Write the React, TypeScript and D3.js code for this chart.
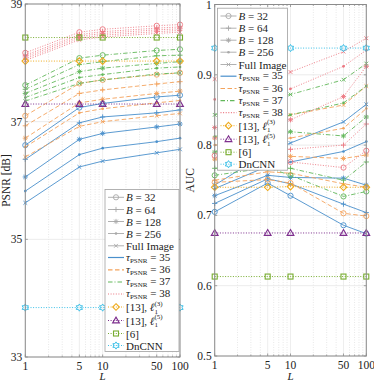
import React, { useEffect, useRef } from "react";
import * as d3 from "d3";

const Ls = [1, 5, 10, 50, 100];
const taus = [35, 36, 37, 38];
const blockLabels = ["32", "64", "128", "256"];
const markerTypes = ["circle", "plus", "asterisk", "dot", "cross"];

// PSNR [dB]; rows: B = 32, 64, 128, 256, Full Image
const psnr35 = [
  [36.6, 37.24, 37.31, 37.42, 37.45],
  [36.36, 36.98, 37.08, 37.15, 37.2],
  [36.06, 36.7, 36.8, 36.91, 36.96],
  [35.82, 36.44, 36.55, 36.66, 36.72],
  [35.62, 36.23, 36.33, 36.47, 36.53],
];
const psnr36 = [
  [37.1, 37.65, 37.71, 37.8, 37.83],
  [36.93, 37.48, 37.54, 37.64, 37.68],
  [36.72, 37.32, 37.38, 37.48, 37.52],
  [36.57, 37.15, 37.22, 37.32, 37.36],
  [36.4, 36.92, 37.0, 37.1, 37.14],
];
const psnr37 = [
  [37.62, 38.08, 38.13, 38.21, 38.23],
  [37.55, 37.97, 38.02, 38.12, 38.13],
  [37.48, 37.85, 37.91, 37.99, 38.02],
  [37.41, 37.75, 37.8, 37.91, 37.93],
  [37.35, 37.65, 37.71, 37.81, 37.83],
];
const psnr38 = [
  [38.17, 38.52, 38.57, 38.63, 38.65],
  [38.13, 38.48, 38.53, 38.59, 38.61],
  [38.1, 38.45, 38.5, 38.56, 38.58],
  [38.07, 38.42, 38.47, 38.53, 38.55],
  [38.04, 38.39, 38.44, 38.5, 38.52],
];
const psnrRef13l3 = [38.03, 38.03, 38.03, 38.03, 38.03];
const psnrRef13l5 = [37.3, 37.3, 37.3, 37.3, 37.3];
const psnrRef6 = [38.43, 38.43, 38.43, 38.43, 38.43];
const psnrDnCNN = [33.84, 33.84, 33.84, 33.84, 33.84];

// AUC; rows: B = 32, 64, 128, 256, Full Image
const auc35 = [
  [0.705, 0.746, 0.728, 0.686, 0.674],
  [0.717, 0.752, 0.745, 0.716, 0.704],
  [0.728, 0.757, 0.754, 0.753, 0.743],
  [0.738, 0.77, 0.776, 0.791, 0.805],
  [0.743, 0.79, 0.803, 0.833, 0.858],
];
const auc36 = [
  [0.747, 0.751, 0.746, 0.703, 0.699],
  [0.75, 0.762, 0.76, 0.745, 0.74],
  [0.78, 0.785, 0.784, 0.781, 0.786],
  [0.8, 0.808, 0.81, 0.824, 0.852],
  [0.81, 0.835, 0.843, 0.857, 0.884],
];
const auc37 = [
  [0.757, 0.768, 0.757, 0.727, 0.734],
  [0.767, 0.772, 0.767, 0.75, 0.776],
  [0.79, 0.81, 0.819, 0.813, 0.84],
  [0.812, 0.835, 0.843, 0.86, 0.884],
  [0.843, 0.865, 0.872, 0.893, 0.916],
];
const auc38 = [
  [0.785, 0.785, 0.776, 0.768, 0.792],
  [0.81, 0.8, 0.794, 0.8, 0.83],
  [0.825, 0.83, 0.836, 0.869, 0.912],
  [0.865, 0.87, 0.88, 0.912, 0.935],
  [0.894, 0.9, 0.904, 0.933, 0.952],
];
const aucRef13l3 = [0.74, 0.74, 0.741, 0.74, 0.74];
const aucRef13l5 = [0.675, 0.675, 0.675, 0.675, 0.675];
const aucRef6 = [0.613, 0.613, 0.613, 0.613, 0.613];
const aucDnCNN = [0.938, 0.938, 0.938, 0.938, 0.938];

const tauColors = ["#4a90cc", "#f4a35c", "#62b85a", "#ec7680"];
const tauDash = ["none", "4.5,2.5", "4.5,2,1,2", "1,1.6"];
const FONT = "'Liberation Serif', 'DejaVu Serif', serif";
const gray = "#a8a8a8";

function drawMarker(g: any, type: string, x: number, y: number, color: string) {
  const s = 2.6;
  if (type === "circle") {
    g.append("circle").attr("cx", x).attr("cy", y).attr("r", s).attr("fill", "none").attr("stroke", color).attr("stroke-width", 0.9);
  } else if (type === "plus" || type === "asterisk" || type === "cross") {
    const segs: number[][] = [];
    if (type !== "cross") segs.push([-s, 0, s, 0], [0, -s, 0, s]);
    if (type !== "plus") {
      const d = s * 0.72;
      segs.push([-d, -d, d, d], [-d, d, d, -d]);
    }
    segs.forEach((q) =>
      g.append("line").attr("x1", x + q[0]).attr("y1", y + q[1]).attr("x2", x + q[2]).attr("y2", y + q[3]).attr("stroke", color).attr("stroke-width", 0.9)
    );
  } else if (type === "dot") {
    g.append("circle").attr("cx", x).attr("cy", y).attr("r", 1.3).attr("fill", color);
  } else if (type === "diamond") {
    const r = 3.3;
    g.append("path").attr("d", `M${x},${y - r}L${x + r},${y}L${x},${y + r}L${x - r},${y}Z`).attr("fill", "none").attr("stroke", color).attr("stroke-width", 1.1);
  } else if (type === "triangle") {
    const r = 3.4;
    g.append("path").attr("d", `M${x},${y - r}L${x + r},${y + r * 0.7}L${x - r},${y + r * 0.7}Z`).attr("fill", "none").attr("stroke", color).attr("stroke-width", 1.1);
  } else if (type === "square") {
    const r = 2.5;
    g.append("rect").attr("x", x - r).attr("y", y - r).attr("width", 2 * r).attr("height", 2 * r).attr("fill", "none").attr("stroke", color).attr("stroke-width", 1.1);
  } else if (type === "hexagram") {
    const pts: string[] = [];
    for (let i = 0; i < 12; i++) {
      const r = i % 2 === 0 ? 3.6 : 2.1;
      const a = (Math.PI / 6) * i - Math.PI / 2;
      pts.push(`${x + r * Math.cos(a)},${y + r * Math.sin(a)}`);
    }
    g.append("path").attr("d", "M" + pts.join("L") + "Z").attr("fill", "none").attr("stroke", color).attr("stroke-width", 1);
  }
}

type Panel = {
  x0: number; x1: number; y0: number; y1: number;
  dom: [number, number]; ticks: number[]; fmt: (v: number) => string;
  tau: number[][][]; refs: { vals: number[]; color: string; marker: string }[];
  ylabel: string; ylabelX: number;
};

function drawPanel(svg: any, p: Panel) {
  const x = d3.scaleLog().domain([1, 100]).range([p.x0, p.x1]);
  const y = d3.scaleLinear().domain(p.dom).range([p.y1, p.y0]);
  const g = svg.append("g");
  const minor = [2, 3, 4, 6, 7, 8, 9, 20, 30, 40, 60, 70, 80, 90];

  // grid
  minor.forEach((v) =>
    g.append("line").attr("x1", x(v)).attr("x2", x(v)).attr("y1", p.y0).attr("y2", p.y1).attr("stroke", "#d8d8d8").attr("stroke-width", 0.6).attr("stroke-dasharray", "1,1.5")
  );
  Ls.forEach((v) =>
    g.append("line").attr("x1", x(v)).attr("x2", x(v)).attr("y1", p.y0).attr("y2", p.y1).attr("stroke", "#e6e6e6").attr("stroke-width", 0.7)
  );
  p.ticks.forEach((v) =>
    g.append("line").attr("x1", p.x0).attr("x2", p.x1).attr("y1", y(v)).attr("y2", y(v)).attr("stroke", "#e6e6e6").attr("stroke-width", 0.8)
  );

  // tau series
  const line = d3.line<number>().x((_, i) => x(Ls[i])).y((d) => y(d));
  p.tau.forEach((rows, ti) => {
    rows.forEach((vals, bi) => {
      g.append("path").attr("d", line(vals)).attr("fill", "none").attr("stroke", tauColors[ti]).attr("stroke-width", 0.9).attr("stroke-dasharray", tauDash[ti]);
      vals.forEach((v, i) => drawMarker(g, markerTypes[bi], x(Ls[i]), y(v), tauColors[ti]));
    });
  });
  // reference methods
  p.refs.forEach((r) => {
    g.append("path").attr("d", line(r.vals)).attr("fill", "none").attr("stroke", r.color).attr("stroke-width", 1).attr("stroke-dasharray", "1,1.6");
    r.vals.forEach((v, i) => drawMarker(g, r.marker, x(Ls[i]), y(v), r.color));
  });

  // box + ticks
  g.append("rect").attr("x", p.x0).attr("y", p.y0).attr("width", p.x1 - p.x0).attr("height", p.y1 - p.y0).attr("fill", "none").attr("stroke", "#8c8c8c").attr("stroke-width", 1);
  minor.forEach((v) => {
    g.append("line").attr("x1", x(v)).attr("x2", x(v)).attr("y1", p.y1).attr("y2", p.y1 - 1.5).attr("stroke", "#8c8c8c").attr("stroke-width", 0.7);
    g.append("line").attr("x1", x(v)).attr("x2", x(v)).attr("y1", p.y0).attr("y2", p.y0 + 1.5).attr("stroke", "#8c8c8c").attr("stroke-width", 0.7);
  });
  Ls.forEach((v) => {
    g.append("line").attr("x1", x(v)).attr("x2", x(v)).attr("y1", p.y1).attr("y2", p.y1 - 2.5).attr("stroke", "#8c8c8c").attr("stroke-width", 0.8);
    g.append("line").attr("x1", x(v)).attr("x2", x(v)).attr("y1", p.y0).attr("y2", p.y0 + 2.5).attr("stroke", "#8c8c8c").attr("stroke-width", 0.8);
    g.append("text").attr("x", x(v)).attr("y", p.y1 + 13).attr("text-anchor", "middle").attr("font-family", FONT).attr("font-size", 11.5).attr("fill", "#222").text(String(v));
  });
  p.ticks.forEach((v) => {
    g.append("line").attr("x1", p.x0).attr("x2", p.x0 + 2.5).attr("y1", y(v)).attr("y2", y(v)).attr("stroke", "#8c8c8c").attr("stroke-width", 0.8);
    g.append("line").attr("x1", p.x1).attr("x2", p.x1 - 2.5).attr("y1", y(v)).attr("y2", y(v)).attr("stroke", "#8c8c8c").attr("stroke-width", 0.8);
    g.append("text").attr("x", p.x0 - 3).attr("y", y(v) + 4).attr("text-anchor", "end").attr("font-family", FONT).attr("font-size", 11.5).attr("fill", "#222").text(p.fmt(v));
  });
  g.append("text").attr("x", (p.x0 + p.x1) / 2).attr("y", 379.5).attr("text-anchor", "middle").attr("font-family", FONT).attr("font-style", "italic").attr("font-size", 11).attr("fill", "#222").text("L");
  g.append("text").attr("transform", `translate(${p.ylabelX},${(p.y0 + p.y1) / 2}) rotate(-90)`).attr("text-anchor", "middle").attr("font-family", FONT).attr("font-size", 11.5).attr("fill", "#222").text(p.ylabel);
}

function drawLegend(svg: any, lx: number, top: number, ys: number[], width: number, height: number) {
  const g = svg.append("g").attr("font-family", FONT).attr("font-size", 11).attr("fill", "#222");
  g.append("rect").attr("x", lx).attr("y", top).attr("width", width).attr("height", height).attr("fill", "white").attr("stroke", "#a0a0a0").attr("stroke-width", 0.8);
  const lx0 = lx + 3, lx1 = lx + 19, mx = lx + 11, tx = lx + 21;
  const sample = (yy: number, color: string, dash: string, marker: string | null, w = 0.9) => {
    g.append("line").attr("x1", lx0).attr("x2", lx1).attr("y1", yy).attr("y2", yy).attr("stroke", color).attr("stroke-width", w).attr("stroke-dasharray", dash);
    if (marker) drawMarker(g, marker, mx, yy, color);
  };
  let k = 0;
  // block sizes
  blockLabels.forEach((b, bi) => {
    const yy = ys[k++];
    sample(yy, gray, "none", markerTypes[bi]);
    const t = g.append("text").attr("x", tx).attr("y", yy + 4);
    t.append("tspan").attr("font-style", "italic").text("B");
    t.append("tspan").text(` = ${b}`);
  });
  {
    const yy = ys[k++];
    sample(yy, gray, "none", "cross");
    g.append("text").attr("x", tx).attr("y", yy + 4).text("Full Image");
  }
  taus.forEach((tau, ti) => {
    const yy = ys[k++];
    sample(yy, tauColors[ti], tauDash[ti], null, 1.2);
    const t = g.append("text").attr("x", tx).attr("y", yy + 3);
    t.append("tspan").attr("font-style", "italic").text("τ");
    t.append("tspan").attr("font-size", 7).attr("dy", 2).text("PSNR");
    t.append("tspan").attr("dy", -2).text(` = ${tau}`);
  });
  const refs = [
    { label: "3", color: "#eeaa1c", marker: "diamond" },
    { label: "5", color: "#7e2f8e", marker: "triangle" },
  ];
  refs.forEach((r) => {
    const yy = ys[k++];
    sample(yy, r.color, "1,1.6", r.marker, 1);
    const t = g.append("text").attr("x", tx).attr("y", yy + 4);
    t.append("tspan").text("[13], ");
    t.append("tspan").attr("font-style", "italic").text("ℓ");
    t.append("tspan").attr("font-size", 7).attr("dy", 2.5).text("1");
    t.append("tspan").attr("font-size", 7).attr("dx", -3.5).attr("dy", -8).text(`(${r.label})`);
  });
  {
    const yy = ys[k++];
    sample(yy, "#77ac30", "1,1.6", "square", 1);
    g.append("text").attr("x", tx).attr("y", yy + 4).text("[6]");
  }
  {
    const yy = ys[k++];
    sample(yy, "#3cc0e8", "1,1.6", "hexagram", 1);
    g.append("text").attr("x", tx).attr("y", yy + 4).text("DnCNN");
  }
}

export default function App() {
  const svgRef = useRef<SVGSVGElement>(null);

  useEffect(() => {
    const svg = d3.select(svgRef.current);
    svg.selectAll("*").remove();

    drawPanel(svg, {
      x0: 25.3, x1: 180, y0: 4, y1: 357,
      dom: [33, 39], ticks: [33, 35, 37, 39], fmt: (v) => String(v),
      tau: [psnr35, psnr36, psnr37, psnr38],
      refs: [
        { vals: psnrRef13l3, color: "#eeaa1c", marker: "diamond" },
        { vals: psnrRef13l5, color: "#7e2f8e", marker: "triangle" },
        { vals: psnrRef6, color: "#77ac30", marker: "square" },
        { vals: psnrDnCNN, color: "#3cc0e8", marker: "hexagram" },
      ],
      ylabel: "PSNR [dB]", ylabelX: 10,
    });
    drawPanel(svg, {
      x0: 214.7, x1: 366.3, y0: 4.5, y1: 356,
      dom: [0.5, 1], ticks: [0.5, 0.6, 0.7, 0.8, 0.9, 1], fmt: (v) => (v === 1 ? "1" : d3.format(".1f")(v)),
      tau: [auc35, auc36, auc37, auc38],
      refs: [
        { vals: aucRef13l3, color: "#eeaa1c", marker: "diamond" },
        { vals: aucRef13l5, color: "#7e2f8e", marker: "triangle" },
        { vals: aucRef6, color: "#77ac30", marker: "square" },
        { vals: aucDnCNN, color: "#3cc0e8", marker: "hexagram" },
      ],
      ylabel: "AUC", ylabelX: 194,
    });

    const rowsLeft = [197.3, 209.5, 221.5, 233.5, 245.8, 257.5, 269.8, 282, 294, 307, 320.5, 333.5, 345.5];
    drawLegend(svg, 105, 189.5, rowsLeft, 74, 162);
    const rowsRight = rowsLeft.map((v) => v - 181.3);
    drawLegend(svg, 217.5, 8.2, rowsRight, 70, 162);
  }, []);

  return (
    <svg
      ref={svgRef}
      width={374}
      height={382}
      style={{ position: "absolute", left: 0, top: 0, background: "white" }}
    />
  );
}
